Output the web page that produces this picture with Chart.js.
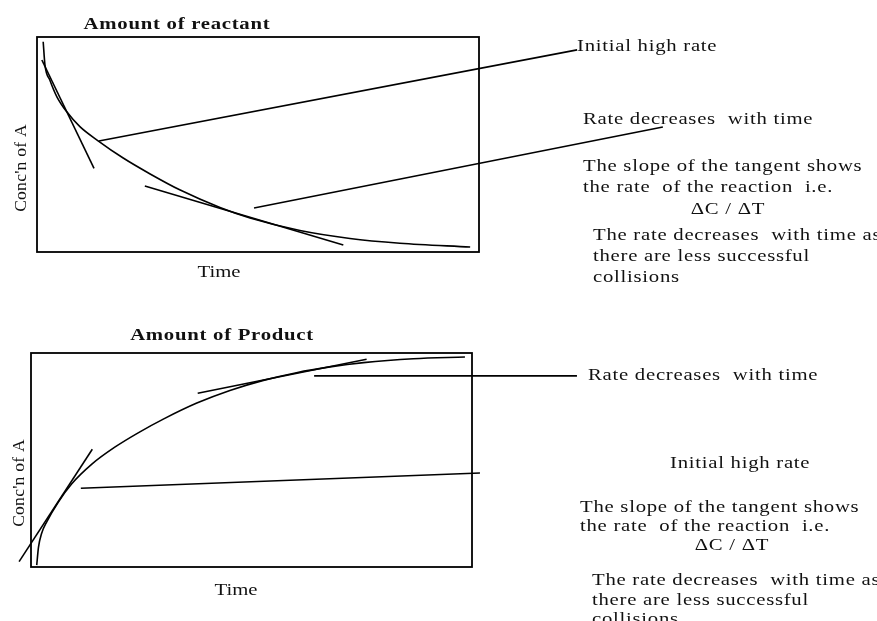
<!DOCTYPE html>
<html>
<head>
<meta charset="utf-8">
<script src="https://cdn.jsdelivr.net/npm/chart.js@4/dist/chart.umd.min.js"></script>
<style>
  body { margin: 0; background: #fff; overflow: hidden; }
  .panel { position: absolute; left: 0; width: 877px; }
  #topPanel { top: 0; height: 300px; }
  #bottomPanel { top: 300px; height: 321px; }
</style>
</head>
<body>
<div class="panel" id="topPanel"><canvas id="reactantChart"></canvas></div>
<div class="panel" id="bottomPanel"><canvas id="productChart"></canvas></div>
<script>
// time and concentration as fractions of the plotted box
const reactantTime = [0.014, 0.018, 0.029, 0.045, 0.067, 0.097, 0.139, 0.195, 0.256, 0.324, 0.414, 0.482, 0.595, 0.708, 0.821, 0.980];
const reactantConc = [0.978, 0.870, 0.800, 0.722, 0.653, 0.583, 0.516, 0.437, 0.363, 0.288, 0.207, 0.158, 0.100, 0.063, 0.041, 0.023];
const reactantTangent1 = { x: [0.011, 0.129], y: [0.893, 0.389] };
const reactantTangent2 = { x: [0.244, 0.693], y: [0.307, 0.033] };
const reactantPointer1 = { x: [0.140, 1.222], y: [0.516, 0.940] };
const reactantPointer2 = { x: [0.491, 1.416], y: [0.205, 0.581] };

const productTime = [0.013, 0.017, 0.024, 0.036, 0.062, 0.092, 0.138, 0.190, 0.243, 0.300, 0.376, 0.451, 0.527, 0.602, 0.678, 0.754, 0.867, 0.984];
const productConc = [0.009, 0.093, 0.157, 0.212, 0.304, 0.388, 0.481, 0.560, 0.627, 0.691, 0.766, 0.825, 0.872, 0.908, 0.935, 0.955, 0.973, 0.981];
const productTangent1 = { x: [-0.027, 0.139], y: [0.025, 0.550] };
const productTangent2 = { x: [0.378, 0.761], y: [0.812, 0.971] };
const productPointer1 = { x: [0.642, 1.238], y: [0.893, 0.893] };
const productPointer2 = { x: [0.113, 1.018, 1.426], y: [0.368, 0.439, 0.486] };

const xLabel = "Time";
const yLabel = "Conc'n of A";
const noteLines = [
  "The slope of the tangent shows",
  "the rate  of the reaction  i.e.",
  "\u0394C / \u0394T",
  "The rate decreases  with time as",
  "there are less successful",
  "collisions"
];

const serif = "'Liberation Serif', 'DejaVu Serif', serif";

function toPoints(xs, ys) {
  return xs.map((x, i) => ({ x: x, y: ys[i] }));
}

function lineSet(xs, ys, smooth) {
  return {
    data: toPoints(xs, ys),
    showLine: true,
    borderColor: "#000",
    borderWidth: 1.6,
    pointRadius: 0,
    tension: smooth ? 0.4 : 0,
    cubicInterpolationMode: smooth ? "monotone" : "default",
    clip: false
  };
}

// the scanned font is much wider than Times, so stretch it sideways a bit
function textPlugin(texts) {
  return {
    id: "texts",
    afterDraw(chart) {
      const ctx = chart.ctx;
      const a = chart.chartArea;
      ctx.save();
      ctx.strokeStyle = "#000";
      ctx.lineWidth = 1.8;
      ctx.strokeRect(a.left, a.top, a.right - a.left, a.bottom - a.top);
      ctx.fillStyle = "#111";
      ctx.textBaseline = "alphabetic";
      texts.forEach(t => {
        ctx.font = (t.bold ? "bold " : "") + (t.size || 17) + "px " + serif;
        ctx.letterSpacing = (t.spacing === undefined ? 0.6 : t.spacing) + "px";
        ctx.textAlign = t.align || "left";
        ctx.save();
        ctx.translate(t.x, t.y);
        if (t.rotate) ctx.rotate(-Math.PI / 2);
        ctx.scale(t.stretch || 1.22, 1);
        ctx.fillText(t.text, 0, 0);
        ctx.restore();
      });
      ctx.restore();
    }
  };
}

function makeChart(id, padding, datasets, texts) {
  return new Chart(document.getElementById(id), {
    type: "scatter",
    data: { datasets: datasets },
    options: {
      responsive: true,
      maintainAspectRatio: false,
      animation: false,
      layout: { padding: padding },
      plugins: { legend: { display: false }, tooltip: { enabled: false } },
      scales: {
        x: { type: "linear", min: 0, max: 1, display: false },
        y: { type: "linear", min: 0, max: 1, display: false }
      }
    },
    plugins: [textPlugin(texts)]
  });
}

makeChart("reactantChart", { left: 37, right: 398, top: 37, bottom: 48 }, [
  lineSet(reactantTime, reactantConc, true),
  lineSet(reactantTangent1.x, reactantTangent1.y),
  lineSet(reactantTangent2.x, reactantTangent2.y),
  lineSet(reactantPointer1.x, reactantPointer1.y),
  lineSet(reactantPointer2.x, reactantPointer2.y)
], [
  { text: "Amount of reactant", x: 177, y: 29, bold: true, align: "center" },
  { text: xLabel, x: 219, y: 277, align: "center", spacing: 0 },
  { text: yLabel, x: 26, y: 168, align: "center", rotate: true, size: 16, spacing: 0.2, stretch: 1.1 },
  { text: "Initial high rate", x: 577, y: 51 },
  { text: "Rate decreases  with time", x: 583, y: 124 },
  { text: noteLines[0], x: 583, y: 171 },
  { text: noteLines[1], x: 583, y: 192 },
  { text: noteLines[2], x: 728, y: 214, align: "center" },
  { text: noteLines[3], x: 593, y: 240 },
  { text: noteLines[4], x: 593, y: 261 },
  { text: noteLines[5], x: 593, y: 282 }
]);

makeChart("productChart", { left: 31, right: 405, top: 53, bottom: 54 }, [
  lineSet(productTime, productConc, true),
  lineSet(productTangent1.x, productTangent1.y),
  lineSet(productTangent2.x, productTangent2.y),
  lineSet(productPointer1.x, productPointer1.y),
  lineSet(productPointer2.x, productPointer2.y)
], [
  { text: "Amount of Product", x: 222, y: 40, bold: true, align: "center" },
  { text: xLabel, x: 236, y: 295, align: "center", spacing: 0 },
  { text: yLabel, x: 24, y: 183, align: "center", rotate: true, size: 16, spacing: 0.2, stretch: 1.1 },
  { text: "Rate decreases  with time", x: 588, y: 80 },
  { text: "Initial high rate", x: 670, y: 168 },
  { text: noteLines[0], x: 580, y: 212 },
  { text: noteLines[1], x: 580, y: 231 },
  { text: noteLines[2], x: 732, y: 250, align: "center" },
  { text: noteLines[3], x: 592, y: 285 },
  { text: noteLines[4], x: 592, y: 305 },
  { text: noteLines[5], x: 592, y: 324 }
]);
</script>
</body>
</html>
